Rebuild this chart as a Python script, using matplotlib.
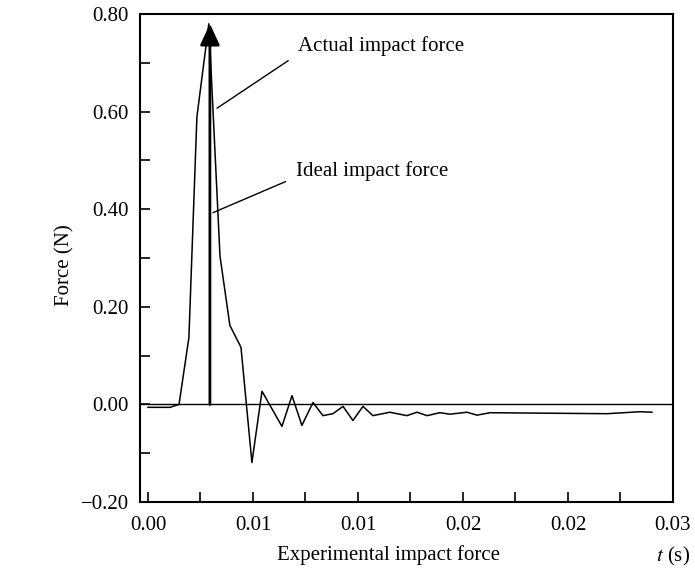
import numpy as np
import matplotlib
matplotlib.use("Agg")
import matplotlib.pyplot as plt
from matplotlib.ticker import MultipleLocator, FixedLocator, FixedFormatter

plt.rcParams['font.family'] = ['Liberation Serif', 'DejaVu Serif']
plt.rcParams['mathtext.fontset'] = 'stix'

t_actual = [0.0, 0.00105, 0.00148, 0.00195, 0.00233, 0.0029, 0.00343, 0.0039,
            0.00443, 0.00495, 0.00543, 0.00638, 0.00686, 0.00733, 0.00786,
            0.00833, 0.00881, 0.00929, 0.00976, 0.01024, 0.01071, 0.01152,
            0.01233, 0.01281, 0.01329, 0.0139, 0.01438, 0.01519, 0.01567,
            0.01629, 0.02186, 0.02343, 0.024]
f_actual = [-0.006, -0.006, 0.0, 0.137, 0.589, 0.78, 0.304, 0.162,
            0.117, -0.119, 0.027, -0.045, 0.018, -0.043, 0.004,
            -0.023, -0.019, -0.004, -0.033, -0.004, -0.023, -0.016,
            -0.023, -0.016, -0.023, -0.017, -0.020, -0.016, -0.022,
            -0.017, -0.019, -0.015, -0.016]

# ideal impulse
t_ideal = 0.00295
f_ideal = 0.78

x_ticks = [0.0, 0.005, 0.01, 0.015, 0.02, 0.025]
x_labels = ['0.00', '0.01', '0.01', '0.02', '0.02', '0.03']
y_ticks = [-0.2, 0.0, 0.2, 0.4, 0.6, 0.8]
y_labels = ['\u22120.20', '0.00', '0.20', '0.40', '0.60', '0.80']

fig = plt.figure(figsize=(6.95, 5.74), dpi=100)
ax = fig.add_axes([0.2014, 0.1254, 0.7669, 0.8502])

ax.axhline(0, color='black', lw=1.0)
ax.plot(t_actual, f_actual, color='black', lw=1.1)
ax.annotate('', xy=(t_ideal, f_ideal), xytext=(t_ideal, 0),
            arrowprops=dict(arrowstyle='-|>,head_length=1.3,head_width=0.6',
                            mutation_scale=10, color='black', lw=2,
                            shrinkA=0, shrinkB=0))

ax.annotate('Actual impact force', xy=(0.00329, 0.607), xytext=(0.00714, 0.734),
            fontsize=15, va='center', ha='left',
            arrowprops=dict(arrowstyle='-', color='black', lw=1,
                            relpos=(0, 0.1), shrinkA=6, shrinkB=0))
ax.annotate('Ideal impact force', xy=(0.00310, 0.393), xytext=(0.00705, 0.478),
            fontsize=15, va='center', ha='left',
            arrowprops=dict(arrowstyle='-', color='black', lw=1,
                            relpos=(0, 0.2), shrinkA=6, shrinkB=0))

ax.set_xlim(-0.00038, 0.025)
ax.set_ylim(-0.2, 0.8)

ax.xaxis.set_major_locator(FixedLocator(x_ticks))
ax.xaxis.set_major_formatter(FixedFormatter(x_labels))
ax.xaxis.set_minor_locator(MultipleLocator(0.0025))
ax.yaxis.set_major_locator(FixedLocator(y_ticks))
ax.yaxis.set_major_formatter(FixedFormatter(y_labels))
ax.yaxis.set_minor_locator(MultipleLocator(0.1))

ax.tick_params(which='both', direction='in', length=7, width=1.2,
               labelsize=15, top=False, right=False)
ax.tick_params(axis='y', pad=8)
ax.tick_params(axis='x', pad=10)
for s in ax.spines.values():
    s.set_linewidth(1.5)

ax.set_ylabel('Force (N)', fontsize=15)
ax.yaxis.set_label_coords(-0.122, 0.486)
ax.set_xlabel('Experimental impact force', fontsize=15)
ax.xaxis.set_label_coords(0.467, -0.088)
ax.text(1.0, -0.088, '$t$ (s)', transform=ax.transAxes, fontsize=15,
        ha='center', va='top')

fig.savefig('out.png', dpi=100)
